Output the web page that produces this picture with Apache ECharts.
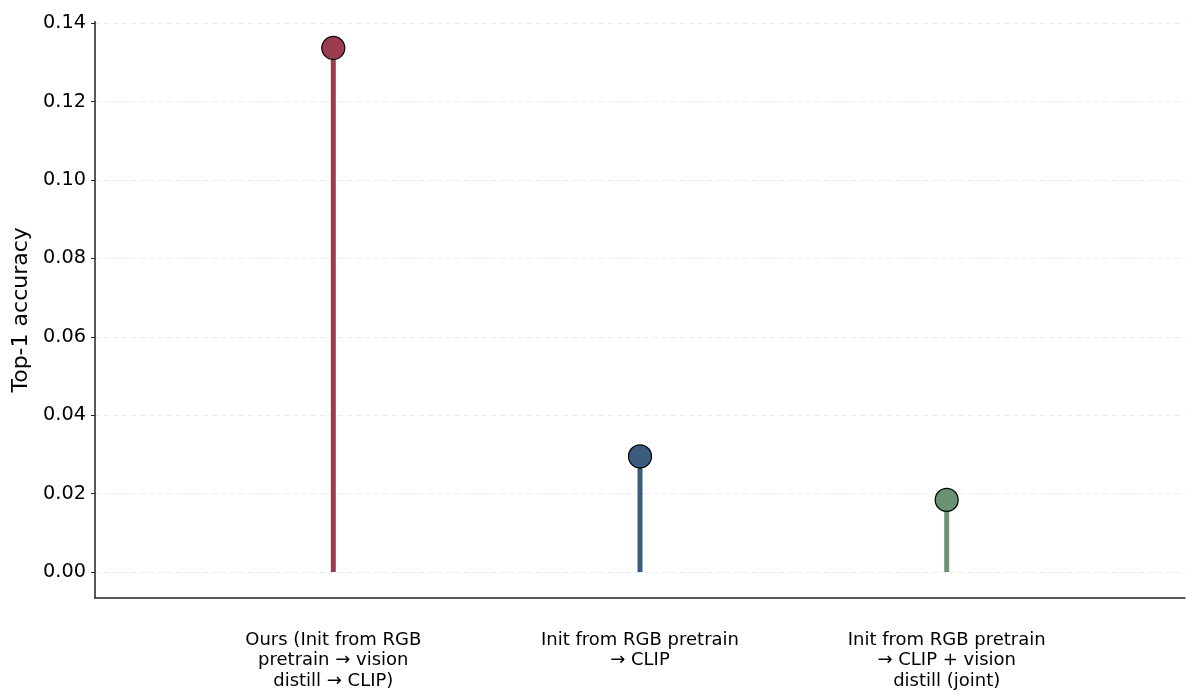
<!DOCTYPE html>
<html>
<head>
<meta charset="utf-8">
<script src="https://cdn.jsdelivr.net/npm/echarts@6/dist/echarts.min.js"></script>
<style>html,body{margin:0;padding:0;background:#fff;}#c{width:1200px;height:700px;}</style>
</head>
<body>
<div id="c"></div>
<script>
const categories = [
  "Ours (Init from RGB\npretrain \u2192 vision\ndistill \u2192 CLIP)",
  "Init from RGB pretrain\n\u2192 CLIP",
  "Init from RGB pretrain\n\u2192 CLIP + vision\ndistill (joint)"
];
const values = [0.1337, 0.0295, 0.0184];
const colors = ["#9b3b50", "#3b5b7f", "#6b9373"];
const yTicks = [0, 0.02, 0.04, 0.06, 0.08, 0.10, 0.12, 0.14];
const yTickLabels = ["0.00", "0.02", "0.04", "0.06", "0.08", "0.10", "0.12", "0.14"];

const font = "DejaVu Sans";
const chart = echarts.init(document.getElementById('c'), null, {renderer: 'canvas'});
const idx = categories.map((_, i) => i);

chart.setOption({
  animation: false,
  backgroundColor: '#fff',
  grid: {left: 95, right: 15, top: 21.7, bottom: 102, containLabel: false},
  xAxis: {
    type: 'value',
    min: -0.777, max: 2.777,
    axisLine: {show: true, onZero: false, lineStyle: {color: '#222', width: 1.5}},
    axisTick: {show: false},
    splitLine: {show: false},
    axisLabel: {
      customValues: idx,
      margin: 32,
      fontFamily: font, fontSize: 18, color: '#000', lineHeight: 20.5, align: 'center',
      formatter: v => categories[Math.round(v)]
    }
  },
  yAxis: {
    type: 'value',
    min: -0.00663, max: 0.1404,
    name: 'Top-1 accuracy',
    nameLocation: 'middle',
    nameGap: 54,
    nameTextStyle: {fontFamily: font, fontSize: 22, color: '#000'},
    axisLine: {show: true, onZero: false, lineStyle: {color: '#222', width: 1.5}},
    axisTick: {show: true, customValues: yTicks, length: 4, lineStyle: {color: '#222'}},
    axisLabel: {
      customValues: yTicks, margin: 9,
      fontFamily: font, fontSize: 19.3, color: '#000',
      formatter: v => yTickLabels[yTicks.findIndex(t => Math.abs(t - v) < 1e-9)]
    },
    splitLine: {show: true, lineStyle: {color: '#e6e6e6', type: [5, 4], width: 0.8}}
  },
  series: [
    {
      type: 'bar',
      barWidth: 5,
      data: idx.map(i => ({value: [i, values[i]], itemStyle: {color: colors[i]}})),
      z: 2
    },
    {
      type: 'scatter',
      symbolSize: 23,
      data: idx.map(i => ({value: [i, values[i]], itemStyle: {color: colors[i], opacity: 1, borderColor: '#000', borderWidth: 1.2}})),
      z: 3
    }
  ]
});
</script>
</body>
</html>
